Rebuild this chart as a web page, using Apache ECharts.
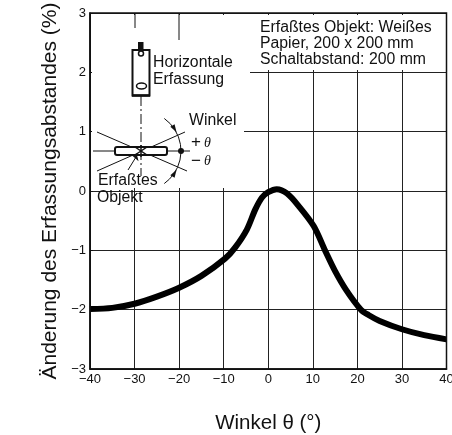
<!DOCTYPE html>
<html>
<head>
<meta charset="utf-8">
<style>html,body{margin:0;padding:0;background:#fff}#c{width:452px;height:435px}</style>
<script src="https://cdn.jsdelivr.net/npm/echarts@6/dist/echarts.min.js"></script>
</head>
<body>
<div id="c"></div>
<script>
const angles = [-40,-35,-30,-25,-20,-15,-9.7,-7.4,-4.8,-2.9,-1.4,0,1.9,4.2,6.8,10.2,12.8,15,17.5,20.8,22.5,25,30,35,40];
const change = [-1.99,-1.97,-1.9,-1.78,-1.63,-1.43,-1.14,-0.95,-0.65,-0.31,-0.11,-0.02,0.03,-0.04,-0.25,-0.59,-1.01,-1.35,-1.67,-2.0,-2.09,-2.19,-2.33,-2.43,-2.5];
const noteLines = ['Erfaßtes Objekt: Weißes','Papier, 200 x 200 mm','Schaltabstand: 200 mm'];
const yName = 'Änderung des Erfassungsabstandes (%)';
const xName = 'Winkel θ (°)';
const F = '"Liberation Sans", Arial, sans-serif';
const INK = '#111';
const fmt = v => v < 0 ? '−' + Math.abs(v) : String(v);
const line = (x1,y1,x2,y2,w=1,extra={}) => ({type:'line',z:20,shape:{x1,y1,x2,y2},style:Object.assign({stroke:INK,lineWidth:w},extra)});
const txt = (x,y,text,size=15.8,extra={}) => ({type:'text',z:21,x,y,style:Object.assign({text,fill:INK,font:size+'px '+F,textVerticalAlign:'middle'},extra)});
const white = (x,y,width,height) => ({type:'rect',z:10,shape:{x,y,width,height},style:{fill:'#fff'}});
const arrow = (x,y,rot) => ({type:'polygon',z:20,x,y,rotation:rot,shape:{points:[[0,-5],[-2.5,3],[2.5,3]]},style:{fill:INK}});
const graphic = [
  white(92,15,352.5,55), white(92,70,158,61), white(92,131,152,57),
  line(135,13,135,28), line(179,13,179,40),
  // sensor
  {type:'rect',z:20,shape:{x:132.5,y:50,width:17,height:45.5},style:{fill:'#fff',stroke:INK,lineWidth:2}},
  {type:'rect',z:20,shape:{x:138,y:42,width:5.5,height:9},style:{fill:INK}},
  {type:'circle',z:21,shape:{cx:141,cy:53.5,r:2.5},style:{fill:'#fff',stroke:INK,lineWidth:1.5}},
  {type:'ellipse',z:21,shape:{cx:141.5,cy:86,rx:5,ry:3},style:{fill:'#fff',stroke:INK,lineWidth:1.5}},
  line(132,95.5,150,95.5,2.5),
  line(141,96,141,176,1,{lineDash:[10,3,2,3]}),
  // target and angle lines
  line(93,151,190,151), line(97,132,187,171), line(97,171,185,132),
  {type:'rect',z:20,shape:{x:115,y:147,width:52,height:8,r:2},style:{fill:'#fff',stroke:INK,lineWidth:2}},
  line(135,147,147,155,1.5), line(135,155,147,147,1.5),
  line(141,145,141,157,1.5),
  {type:'arc',z:20,shape:{cx:141,cy:151,r:40,startAngle:-0.95,endAngle:0.95},style:{stroke:INK,lineWidth:1,fill:null}},
  {type:'circle',z:21,shape:{cx:181,cy:151,r:3},style:{fill:INK}},
  arrow(174,128,-2.6), arrow(174,174,-0.55),
  line(128,170,136,157), arrow(136,157,-2.6),
  // labels
  txt(153,63,'Horizontale'), txt(153,80,'Erfassung'),
  txt(189,121,'Winkel'),
  txt(191,142,'+',17), txt(204,143,'θ',14,{font:'italic 14px "Liberation Serif", serif'}),
  txt(191,161,'−',17), txt(204,161,'θ',14,{font:'italic 14px "Liberation Serif", serif'}),
  txt(98,181,'Erfaßtes'), txt(97,198,'Objekt'),
  txt(260,28,noteLines[0]), txt(260,43.5,noteLines[1]), txt(260,60,noteLines[2])
];
const chart = echarts.init(document.getElementById('c'), null, {renderer:'canvas'});
const splitLine = {show:true, lineStyle:{color:'#222', width:1}};
chart.setOption({
  animation:false,
  backgroundColor:'#fff',
  grid:{left:90, top:13, width:356.5, height:356, outerBoundsMode:'none', show:true, borderColor:INK, borderWidth:1.5, backgroundColor:'transparent', z:30},
  xAxis:{
    type:'value', min:-40, max:40, interval:10,
    name:xName, nameLocation:'middle', nameGap:44,
    nameTextStyle:{fontFamily:F, fontSize:20.5, color:INK},
    axisLine:{show:true,onZero:false,lineStyle:{color:INK,width:1.5}},
    axisTick:{show:false},
    axisLabel:{formatter:fmt, fontFamily:F, fontSize:13, color:INK, margin:4, hideOverlap:false, showMinLabel:true, showMaxLabel:true},
    splitLine
  },
  yAxis:{
    type:'value', min:-3, max:3, interval:1,
    name:yName, nameLocation:'middle', nameGap:26, nameRotate:90,
    nameTextStyle:{fontFamily:F, fontSize:21, color:INK},
    axisLine:{show:true,onZero:false,lineStyle:{color:INK,width:1.5}},
    axisTick:{show:true,inside:true,length:3,lineStyle:{color:INK}},
    axisLabel:{formatter:fmt, fontFamily:F, fontSize:13, color:INK, margin:4, showMinLabel:true, showMaxLabel:true},
    splitLine
  },
  graphic,
  series:[{
    type:'line', data:angles.map((a,i)=>[a,change[i]]),
    showSymbol:false, smooth:0.3, z:25, clip:false,
    lineStyle:{color:'#000', width:6, cap:'butt'}
  }]
});
</script>
</body>
</html>
